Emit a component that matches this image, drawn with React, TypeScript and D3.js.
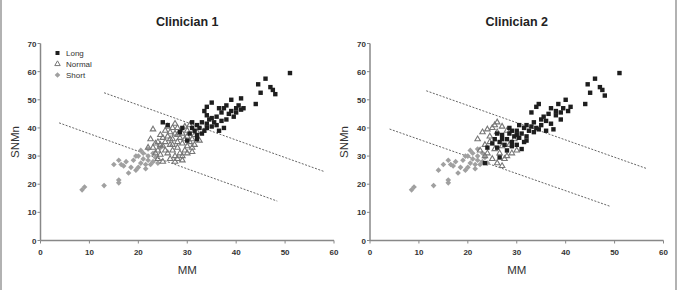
import * as d3 from "d3";
import React from "react";

type Pt = [number, number];

// Clinician 1 classification
const longC1: Pt[] = [
  [30.5, 38], [31, 40], [31, 42], [31.5, 39], [32, 37.5], [32, 41], [32.5, 40], [33, 38], [33, 42],
  [33.5, 46], [34, 40], [34, 41.5], [34, 47.5], [34.5, 43], [35, 49], [35, 40.5], [35.5, 42], [36, 44],
  [36, 41], [36.5, 39], [37, 42.5], [37, 45.5], [37.5, 47], [37.5, 40], [38, 43], [38, 48], [38.5, 45],
  [39, 46], [39, 50], [39.5, 44], [40, 47], [40, 45.5], [40.5, 48], [41, 46.5], [41, 50.5], [41.5, 47],
  [44, 48.5], [44.5, 55.5], [45, 52.5], [46, 57.5], [47, 54.5], [47.5, 53.5], [48, 52], [51, 59.5],
  [25, 42], [26, 41], [32, 36], [30, 35.5], [29, 40], [28.5, 38.5], [33.5, 39], [35, 43.5], [36.5, 47], [34, 44.5],
];
const normalC1: Pt[] = [
  [23, 39.5], [22.5, 36], [23, 33], [23.5, 31], [24, 35], [24, 29], [24.5, 37.5], [25, 33.5], [25, 28],
  [25.5, 35], [25.5, 39], [26, 31], [26, 37], [26.5, 34], [26.5, 29], [27, 36], [27, 32], [27, 40],
  [27.5, 38], [27.5, 30], [28, 35], [28, 33], [28.5, 36.5], [28.5, 31], [29, 38], [29, 34.5], [29.5, 32],
  [29.5, 36], [30, 37], [30, 33.5], [30, 39], [30.5, 35], [31, 31.5], [31, 36], [31.5, 34], [32, 38.5],
  [32.5, 35.5], [26, 40.5], [25, 36.5], [24, 32], [23.5, 34.5], [22, 33], [27.5, 28], [28, 29], [29, 30],
  [30.5, 41], [31.5, 37.5], [26.5, 38.5], [27, 34], [28, 40], [24.5, 30.5], [29, 28.5],
  [25.5, 32], [26.5, 36], [28, 37.5], [30, 31], [31, 33], [24.5, 34], [27.5, 41.5], [29.5, 40.5],
];
const shortC1: Pt[] = [
  [8.5, 18], [9, 19], [13, 19.5], [16, 20.5], [16, 21.5], [15, 27], [16, 28.5], [17, 26.5], [18, 24],
  [18.5, 26], [19.5, 25], [19, 28.5], [20, 30], [20.5, 27.5], [20, 26], [21, 29], [21.5, 27], [22, 28.5],
  [21, 31], [22, 30], [22.5, 27], [23, 28], [21.5, 25.5], [20.5, 32], [19.5, 30], [22, 32.5], [23.5, 29.5],
  [24, 27.5], [24.5, 33], [23, 31], [17.5, 28], [16.5, 27],
];

// Clinician 2 classification
const longC2: Pt[] = [
  [23.5, 27.5], [26.5, 29.5], [24, 33], [25, 34.5], [25.5, 36], [26, 33], [26.5, 35], [27, 37.5], [27.5, 34],
  [28, 36], [28, 32], [28.5, 38], [29, 35], [29, 33.5], [29.5, 37], [30, 39], [30, 34], [30.5, 36.5],
  [31, 38], [31, 32.5], [31.5, 40], [32, 37], [32, 41], [32.5, 39], [33, 40.5], [33, 45.5], [33.5, 42],
  [34, 47.5], [34, 40], [34.5, 48.5], [35, 41], [35, 43], [35.5, 44], [36, 39], [36.5, 45], [37, 47],
  [37, 41.5], [37.5, 39.5], [38, 44.5], [38, 46], [38.5, 48.5], [39, 45.5], [39, 43], [39.5, 47], [40, 50],
  [40.5, 46], [41, 47.5], [44, 48.5], [44.5, 55.5], [45, 52.5], [46, 57.5], [47, 54.5], [47.5, 53.5],
  [48, 51.5], [51, 59.5], [30.5, 41], [29, 39], [27, 36], [33.5, 38.5], [32, 35.5],
  [28.5, 40], [30, 37.5], [31.5, 35], [26, 38], [34.5, 39.5], [36, 42.5],
];
const normalC2: Pt[] = [
  [22, 36], [23, 38.5], [23.5, 34], [24, 31], [24.5, 37], [25, 40], [25, 29], [25.5, 32.5], [26, 38.5],
  [26, 42], [26.5, 31], [27, 40.5], [27, 33.5], [27.5, 29], [28, 39], [28.5, 34], [29, 31], [29.5, 36],
  [30, 32], [22.5, 32], [23.5, 30], [24.5, 35], [26, 27.5], [27, 26.5], [28, 30], [25.5, 41], [24, 39.5],
];
const shortC2: Pt[] = [
  [8.5, 18], [9, 19], [13, 19.5], [16, 20.5], [16, 21.5], [15, 27], [16, 28.5], [17, 26.5], [18, 24],
  [18.5, 26], [19.5, 25], [19, 28.5], [20, 30], [20.5, 27.5], [20, 26], [21, 29], [21.5, 27], [22, 28.5],
  [21, 31], [22, 30], [22.5, 27], [23, 28], [21.5, 25.5], [20.5, 32], [19.5, 30], [22, 32.5], [23.5, 29.5],
  [24, 27.5], [23, 31], [17.5, 28], [16.5, 27], [14, 25],
];

// dotted cut-off lines, [start, end] in data units
const cutsC1: [Pt, Pt][] = [
  [[13, 52.5], [58, 24.5]],
  [[3.8, 41.8], [48.4, 14]],
];
const cutsC2: [Pt, Pt][] = [
  [[11.5, 53.2], [56.5, 25.6]],
  [[4, 39.6], [49, 12.2]],
];

const xTicks = [0, 10, 20, 30, 40, 50, 60];
const yTicks = [0, 10, 20, 30, 40, 50, 60, 70];
const legendLabels = ["Long", "Normal", "Short"];

const FONT = "'Liberation Sans', Arial, sans-serif";

function Panel({
  left,
  title,
  long,
  normal,
  short,
  cuts,
  legend = false,
}: {
  left: number;
  title: string;
  long: Pt[];
  normal: Pt[];
  short: Pt[];
  cuts: [Pt, Pt][];
  legend?: boolean;
}) {
  const x = d3.scaleLinear().domain([0, 60]).range([left, left + 293.5]);
  const y = d3.scaleLinear().domain([0, 70]).range([240.5, 43.5]);
  const tri = d3.symbol().type(d3.symbolTriangle).size(13)();
  const line = d3
    .line<Pt>()
    .x((d) => x(d[0]))
    .y((d) => y(d[1]));
  const cx = (x(0) + x(60)) / 2;

  return (
    <g>
      <text x={cx} y={26} textAnchor="middle" fontFamily={FONT} fontWeight="bold" fontSize={12.5} fill="#222">
        {title}
      </text>

      {/* axes */}
      <line x1={x(0)} x2={x(0)} y1={y(0)} y2={y(70)} stroke="#888" strokeWidth={1.5} />
      <line x1={x(0)} x2={x(60)} y1={y(0)} y2={y(0)} stroke="#888" strokeWidth={1.5} />
      {yTicks.map((t) => (
        <g key={"y" + t}>
          <line x1={x(0) - 3} x2={x(0)} y1={y(t)} y2={y(t)} stroke="#888" />
          <text x={x(0) - 4} y={y(t) + 3} textAnchor="end" fontFamily={FONT} fontWeight="bold" fontSize={8} fill="#333">
            {t}
          </text>
        </g>
      ))}
      {xTicks.map((t) => (
        <g key={"x" + t}>
          <line x1={x(t)} x2={x(t)} y1={y(0)} y2={y(0) + 3} stroke="#888" />
          <text x={x(t)} y={y(0) + 14} textAnchor="middle" fontFamily={FONT} fontWeight="bold" fontSize={8} fill="#333">
            {t}
          </text>
        </g>
      ))}
      <text x={cx} y={274} textAnchor="middle" fontFamily={FONT} fontSize={11.5} fill="#333">
        MM
      </text>
      <text
        transform={`translate(${x(0) - 22},${(y(0) + y(70)) / 2}) rotate(-90)`}
        textAnchor="middle"
        fontFamily={FONT}
        fontSize={11.5}
        fill="#333"
      >
        SNMn
      </text>

      {/* cut-off lines */}
      {cuts.map((c, i) => (
        <path key={i} d={line(c) ?? ""} fill="none" stroke="#666" strokeWidth={1} strokeDasharray="2,1.5" />
      ))}

      {/* points */}
      {short.map((d, i) => (
        <rect
          key={"s" + i}
          x={x(d[0]) - 2}
          y={y(d[1]) - 2}
          width={4}
          height={4}
          fill="#a0a0a0"
          transform={`rotate(45 ${x(d[0])} ${y(d[1])})`}
        />
      ))}
      {normal.map((d, i) => (
        <path
          key={"n" + i}
          d={tri ?? ""}
          transform={`translate(${x(d[0])},${y(d[1])})`}
          fill="none"
          stroke="#777"
          strokeWidth={1.1}
        />
      ))}
      {long.map((d, i) => (
        <rect key={"l" + i} x={x(d[0]) - 2.2} y={y(d[1]) - 2.2} width={4.4} height={4.4} fill="#1e1e1e" />
      ))}

      {legend && (
        <g fontFamily={FONT} fontSize={8} fill="#333">
          {legendLabels.map((lab, i) => {
            const ly = 53 + i * 11;
            return (
              <g key={lab}>
                {i === 0 && <rect x={55.5} y={ly - 2} width={4} height={4} fill="#1e1e1e" />}
                {i === 1 && (
                  <path d={tri ?? ""} transform={`translate(57.5,${ly})`} fill="none" stroke="#777" />
                )}
                {i === 2 && (
                  <rect x={55.5} y={ly - 2} width={4} height={4} fill="#a0a0a0" transform={`rotate(45 57.5 ${ly})`} />
                )}
                <text x={66} y={ly + 3}>
                  {lab}
                </text>
              </g>
            );
          })}
        </g>
      )}
    </g>
  );
}

export default function App() {
  return (
    <svg
      width={682}
      height={290}
      style={{ position: "absolute", left: 0, top: 0, background: "#fff" }}
    >
      <line x1={1} x2={1} y1={0} y2={290} stroke="#999" strokeWidth={1.5} />
      <line x1={676} x2={676} y1={0} y2={290} stroke="#999" strokeWidth={1.5} />
      <Panel left={40.5} title="Clinician 1" long={longC1} normal={normalC1} short={shortC1} cuts={cutsC1} legend />
      <Panel left={370} title="Clinician 2" long={longC2} normal={normalC2} short={shortC2} cuts={cutsC2} />
    </svg>
  );
}
